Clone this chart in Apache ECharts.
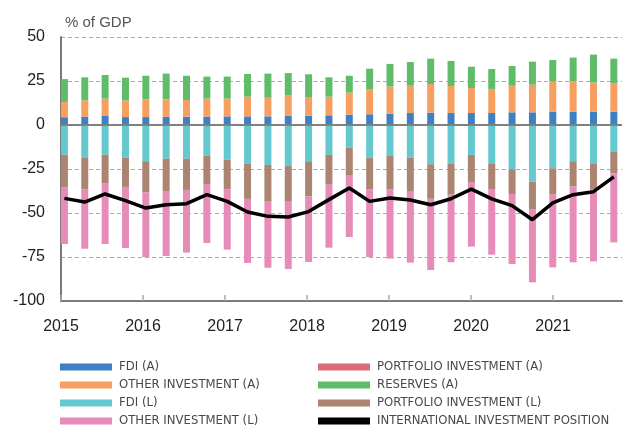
<!DOCTYPE html>
<html>
<head>
<meta charset="utf-8">
<script src="https://cdn.jsdelivr.net/npm/echarts@6/dist/echarts.min.js"></script>
<style>
  html, body { margin: 0; padding: 0; background: #fff; }
  #chart { width: 624px; height: 429px; }
</style>
</head>
<body>
<div id="chart"></div>
<script>
// quarters shown, 2015Q1 .. 2021Q4
let quarters = ['2015Q1','2015Q2','2015Q3','2015Q4','2016Q1','2016Q2','2016Q3','2016Q4',
                '2017Q1','2017Q2','2017Q3','2017Q4','2018Q1','2018Q2','2018Q3','2018Q4',
                '2019Q1','2019Q2','2019Q3','2019Q4','2020Q1','2020Q2','2020Q3','2020Q4',
                '2021Q1','2021Q2','2021Q3','2021Q4'];
let yearTicks = [2015, 2016, 2017, 2018, 2019, 2020, 2021];

// assets (% of GDP)
let fdiA = [4.4,4.7,5.1,4.5,4.5,4.7,4.7,4.7,4.9,4.9,4.9,5.3,5.3,5.5,5.9,6.1,6.4,6.8,7.0,6.8,6.8,6.8,7.2,7.2,7.6,7.6,7.6,7.6];
let portfolioA = [0,0,0,0,0,0,0,0,0,0,0,0,0,0,0,0,0,0,0,0,0,0,0,0,0,0,0,0];
let otherA = [8.7,9.3,9.9,9.5,10.1,9.9,9.5,10.3,10.1,11.2,10.6,11.7,10.6,10.6,12.5,14.0,15.4,15.5,16.3,15.4,14.2,13.7,15.1,15.7,17.2,17.4,16.5,16.3];
let reservesA = [13.0,13.1,13.4,12.9,13.4,14.6,13.8,12.5,12.5,12.9,13.7,12.5,12.9,11.0,9.6,11.9,12.9,13.5,14.4,14.2,12.1,11.3,11.2,13.1,12.1,13.3,15.9,13.8];
// liabilities (% of GDP)
let fdiL = [-16.9,-18.4,-16.9,-18.6,-20.6,-19.1,-19.1,-17.4,-19.7,-22.0,-22.7,-23.1,-20.6,-17.0,-12.9,-18.8,-17.2,-18.6,-22.3,-21.8,-17.0,-21.8,-25.2,-32.2,-24.6,-20.6,-21.8,-15.3];
let portfolioL = [-18.3,-18.3,-16.4,-16.6,-17.8,-18.4,-17.8,-16.1,-17.0,-20.0,-20.9,-20.5,-19.9,-16.9,-15.5,-17.9,-19.2,-18.9,-19.6,-17.8,-15.8,-14.6,-14.0,-15.9,-15.0,-14.4,-14.6,-12.2];
let otherL = [-32.4,-33.6,-34.3,-34.7,-36.6,-36.9,-35.6,-33.5,-34.1,-36.4,-37.5,-38.2,-37.3,-35.8,-35.2,-38.3,-39.5,-40.7,-40.5,-38.4,-36.3,-37.3,-39.8,-41.3,-41.3,-43.0,-41.1,-39.2];
// net position
let iip = [-41.7,-43.8,-39.2,-43.0,-47.2,-45.3,-44.7,-39.6,-43.4,-49.4,-51.9,-52.3,-49.2,-42.4,-35.8,-43.4,-41.5,-42.6,-45.3,-41.9,-36.4,-42.0,-45.8,-53.8,-44.3,-39.6,-37.9,-29.5];

// legend layout: two columns, four rows
let legendCols = [
    ['FDI (A)', 'OTHER INVESTMENT (A)', 'FDI (L)', 'OTHER INVESTMENT (L)'],
    ['PORTFOLIO INVESTMENT (A)', 'RESERVES (A)', 'PORTFOLIO INVESTMENT (L)', 'INTERNATIONAL INVESTMENT POSITION']
];

let axisFont = "'Liberation Sans', Arial, Helvetica, sans-serif";
let legendFont = "'DejaVu Sans Condensed', 'Liberation Sans', sans-serif";

let barSeries = function (name, vals, color) {
    return {
        name: name,
        type: 'bar',
        stack: 'total',
        xAxisIndex: 1,
        yAxisIndex: 1,
        barWidth: 7,
        data: vals,
        itemStyle: { color: color },
        emphasis: { disabled: true }
    };
};

// one small legend per entry so rows sit exactly where the reference has them
let legends = [];
legendCols.forEach(function (col, c) {
    col.forEach(function (name, r) {
        legends.push({
            orient: 'horizontal',
            left: c === 0 ? 60 : 318,
            top: 358 + 18 * r,
            padding: 0,
            icon: 'rect',
            itemWidth: 52,
            itemHeight: 7,
            selectedMode: false,
            textStyle: { fontFamily: legendFont, fontSize: 13, color: '#484848', lineHeight: 18, padding: [0, 0, 0, 2] },
            data: [name]
        });
    });
});

let chart = echarts.init(document.getElementById('chart'), null, { renderer: 'canvas' });
chart.setOption({
    animation: false,
    title: {
        text: '% of GDP',
        left: 60,
        top: 10,
        textStyle: { fontFamily: axisFont, fontSize: 15, fontWeight: 'normal', color: '#555' }
    },
    // grid 0 carries the visible axes, grid 1 the quarterly bars
    grid: [
        { left: 61, right: 2, top: 37, bottom: 128 },
        { left: 54.25, width: 574, top: 37, bottom: 128 }
    ],
    legend: legends,
    xAxis: [{
        type: 'value',
        gridIndex: 0,
        min: 2015,
        max: 2021.84,
        axisLine: { onZero: false, lineStyle: { color: '#7a7a7a', width: 2 } },
        axisTick: { show: true, inside: true, length: 6, customValues: yearTicks, lineStyle: { color: '#aaa', width: 1.5 } },
        axisLabel: { customValues: yearTicks, fontFamily: axisFont, fontSize: 16, color: '#222', margin: 18,
                     formatter: function (v) { return String(Math.round(v)); } },
        splitLine: { show: false }
    }, {
        type: 'category',
        gridIndex: 1,
        data: quarters,
        show: false
    }],
    yAxis: [{
        type: 'value',
        gridIndex: 0,
        min: -100,
        max: 50,
        interval: 25,
        axisLine: { show: true, lineStyle: { color: '#7a7a7a', width: 2 } },
        axisTick: { show: false },
        axisLabel: { fontFamily: axisFont, fontSize: 16, color: '#222', margin: 16 },
        splitLine: { show: true, lineStyle: { color: '#aaa', type: [4, 3], width: 1 } }
    }, {
        type: 'value',
        gridIndex: 1,
        min: -100,
        max: 50,
        interval: 25,
        show: false,
        splitLine: { show: false }
    }],
    series: [
        barSeries('FDI (A)', fdiA, '#3f7fc4'),
        barSeries('PORTFOLIO INVESTMENT (A)', portfolioA, '#d86c79'),
        barSeries('OTHER INVESTMENT (A)', otherA, '#f79e61'),
        barSeries('RESERVES (A)', reservesA, '#5fbd69'),
        barSeries('FDI (L)', fdiL, '#63c9cf'),
        barSeries('PORTFOLIO INVESTMENT (L)', portfolioL, '#ab8571'),
        barSeries('OTHER INVESTMENT (L)', otherL, '#e78bb9'),
        {
            name: 'INTERNATIONAL INVESTMENT POSITION',
            type: 'line',
            xAxisIndex: 1,
            yAxisIndex: 1,
            data: iip,
            showSymbol: false,
            z: 10,
            itemStyle: { color: '#000' },
            lineStyle: { color: '#000', width: 3.5 },
            emphasis: { disabled: true }
        },
        {
            // zero line across the visible grid
            type: 'line',
            xAxisIndex: 0,
            yAxisIndex: 0,
            data: [],
            z: 9,
            markLine: {
                silent: true,
                symbol: 'none',
                label: { show: false },
                lineStyle: { color: '#808080', width: 2, type: 'solid' },
                data: [{ yAxis: 0 }]
            }
        }
    ]
});
</script>
</body>
</html>
